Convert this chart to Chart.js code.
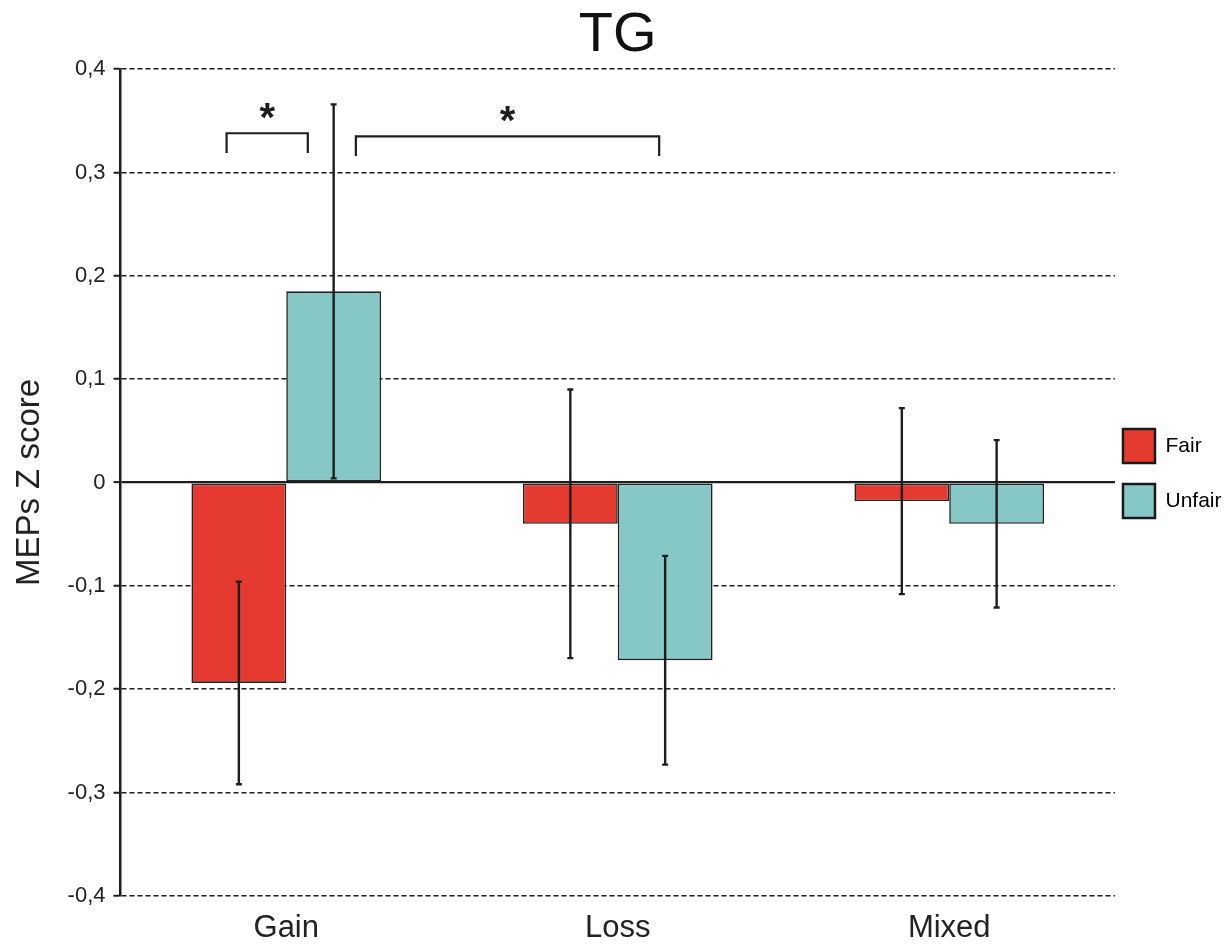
<!DOCTYPE html>
<html>
<head>
<meta charset="utf-8">
<script src="https://cdn.jsdelivr.net/npm/chart.js@4.4.1/dist/chart.umd.min.js"></script>
<style>
  html, body { margin: 0; padding: 0; background: #ffffff; }
  #wrap { width: 1228px; height: 944px; }
</style>
</head>
<body>
<div id="wrap"><canvas id="c" width="1228" height="944"></canvas></div>
<script>
// Mean MEP z scores per condition and their error (±) values
const categories = ['Gain', 'Loss', 'Mixed'];
const seriesNames = ['Fair', 'Unfair'];
const fairMeans = [-0.194, -0.040, -0.018];
const unfairMeans = [0.185, -0.172, -0.040];
const fairErr = [0.098, 0.130, 0.090];
const unfairErr = [0.181, 0.101, 0.081];
const yTickValues = [-0.4, -0.3, -0.2, -0.1, 0, 0.1, 0.2, 0.3, 0.4];

// Significance brackets: ends given on the category axis, height on the value axis
const bracketFrom = [-0.18, 0.21];
const bracketTo = [0.065, 1.125];
const bracketLevel = [0.338, 0.335];
const bracketLabel = ['*', '*'];

const FONT = "'Liberation Sans', Arial, sans-serif";
const INK = '#1e1e1e';

function fmtTick(v) {
  if (Math.abs(v) < 1e-9) return '0';
  return v.toFixed(1).replace('.', ',');
}

const errorBarsPlugin = {
  id: 'errorBars',
  afterDatasetsDraw(chart) {
    const ctx = chart.ctx;
    const y = chart.scales.y;
    const x = chart.scales.x;
    const errs = [fairErr, unfairErr];
    ctx.save();
    ctx.strokeStyle = INK;
    ctx.lineWidth = 2.4;
    chart.data.datasets.forEach((ds, di) => {
      const meta = chart.getDatasetMeta(di);
      meta.data.forEach((bar, i) => {
        const m = ds.data[i];
        const e = errs[di][i];
        const yt = y.getPixelForValue(m + e);
        const yb = y.getPixelForValue(m - e);
        ctx.beginPath();
        ctx.moveTo(bar.x, yt); ctx.lineTo(bar.x, yb);
        ctx.moveTo(bar.x - 3, yt); ctx.lineTo(bar.x + 3, yt);
        ctx.moveTo(bar.x - 3, yb); ctx.lineTo(bar.x + 3, yb);
        ctx.stroke();
      });
    });

    // significance brackets
    const drop = 0.019;
    ctx.lineWidth = 2.2;
    ctx.fillStyle = INK;
    ctx.font = "bold 40px " + FONT;
    ctx.textAlign = 'center';
    ctx.textBaseline = 'alphabetic';
    bracketFrom.forEach((f, k) => {
      const x1 = x.getPixelForValue(f);
      const x2 = x.getPixelForValue(bracketTo[k]);
      const yTop = y.getPixelForValue(bracketLevel[k]);
      const yEnd = y.getPixelForValue(bracketLevel[k] - drop);
      ctx.beginPath();
      ctx.moveTo(x1, yEnd); ctx.lineTo(x1, yTop); ctx.lineTo(x2, yTop); ctx.lineTo(x2, yEnd);
      ctx.stroke();
      ctx.fillText(bracketLabel[k], (x1 + x2) / 2, yTop - 2);
    });
    ctx.restore();
  }
};

// Pull the legend a little closer to the plot so its swatches sit just right of the axis end
const legendNudge = {
  id: 'legendNudge',
  afterLayout(chart) {
    const lg = chart.legend;
    if (lg) {
      lg.left -= 13; lg.right -= 13;
      lg.top -= 7; lg.bottom -= 7;
    }
  }
};

new Chart(document.getElementById('c'), {
  type: 'bar',
  data: {
    labels: categories,
    datasets: [
      {
        label: seriesNames[0],
        data: fairMeans,
        backgroundColor: '#e43a30',
        borderColor: '#222222',
        borderWidth: 1.6,
        borderSkipped: false,
        categoryPercentage: 0.572,
        barPercentage: 1.0
      },
      {
        label: seriesNames[1],
        data: unfairMeans,
        backgroundColor: '#86c8c5',
        borderColor: '#222222',
        borderWidth: 1.6,
        borderSkipped: false,
        categoryPercentage: 0.572,
        barPercentage: 1.0
      }
    ]
  },
  options: {
    responsive: false,
    animation: false,
    devicePixelRatio: 1,
    layout: { padding: { left: 0, right: -16.5, top: 0, bottom: -17 } },
    plugins: {
      title: {
        display: true,
        fullSize: false,
        text: 'TG',
        color: '#111',
        font: { family: FONT, size: 56, weight: 'normal' },
        padding: { top: 2, bottom: 0 }
      },
      legend: {
        display: true,
        position: 'right',
        labels: {
          boxWidth: 32,
          boxHeight: 34,
          padding: 21,
          color: '#222',
          font: { family: FONT, size: 21 },
          generateLabels(chart) {
            return chart.data.datasets.map((ds, i) => ({
              text: ds.label,
              fillStyle: ds.backgroundColor,
              strokeStyle: '#1a1a1a',
              lineWidth: 2.5,
              datasetIndex: i,
              hidden: false
            }));
          }
        }
      },
      tooltip: { enabled: false }
    },
    scales: {
      x: {
        grid: { display: false, drawTicks: false },
        border: { display: false },
        ticks: {
          color: '#222',
          padding: 14,
          font: { family: FONT, size: 31 }
        }
      },
      y: {
        min: -0.4,
        max: 0.4,
        afterBuildTicks(scale) {
          scale.ticks = yTickValues.map(v => ({ value: v }));
        },
        ticks: {
          color: '#222',
          padding: 8,
          font: { family: FONT, size: 22 },
          callback: (v) => fmtTick(v)
        },
        grid: {
          drawTicks: true,
          tickLength: 7,
          tickColor: INK,
          tickWidth: 2,
          color: (c) => INK,
          lineWidth: (c) => (c.tick && Math.abs(c.tick.value) < 1e-9 ? 2.2 : 1.5)
        },
        border: {
          display: true,
          color: INK,
          width: 2.5,
          dash: (c) => (c.tick && Math.abs(c.tick.value) < 1e-9 ? [] : [5, 3])
        },
        title: {
          display: true,
          text: 'MEPs Z score',
          color: '#222',
          font: { family: FONT, size: 33 },
          padding: { top: 10, bottom: 10 }
        }
      }
    }
  },
  plugins: [errorBarsPlugin, legendNudge]
});
</script>
</body>
</html>
